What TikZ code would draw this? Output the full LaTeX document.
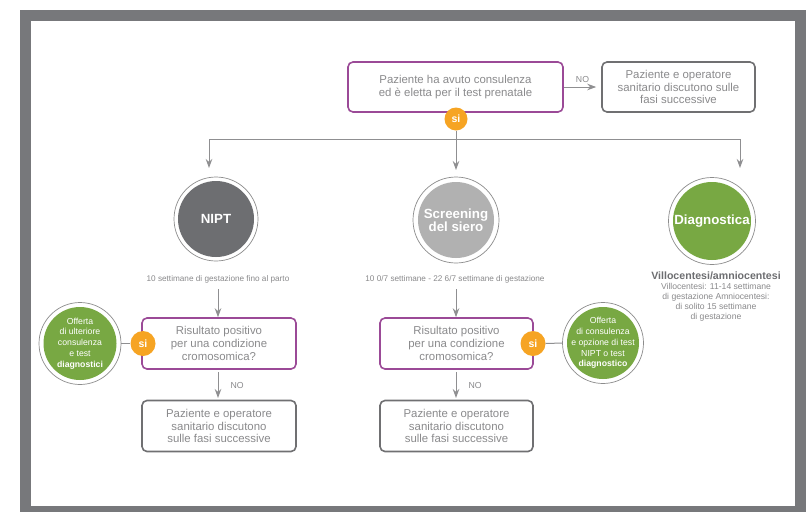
\documentclass[tikz,border=0pt]{standalone}
\usepackage{fontspec}
\setmainfont{Liberation Sans}
\usetikzlibrary{arrows.meta,calc}
\definecolor{framegray}{HTML}{77787B}
\definecolor{purp}{HTML}{9B4A97}
\definecolor{orng}{HTML}{F6A423}
\definecolor{grn}{HTML}{78A843}
\definecolor{darkfill}{HTML}{6D6E71}
\definecolor{lightfill}{HTML}{B1B1B1}
\definecolor{ringgray}{HTML}{8C8C8C}
\definecolor{txtgray}{HTML}{8A8A8C}
\definecolor{boxgray}{HTML}{707072}
\definecolor{linegray}{HTML}{8F8F91}
\tikzset{
  txt/.style={text=txtgray, align=center, inner sep=0pt},
  boxfont/.style={font=\fontsize{11.4}{12.6}\selectfont},
  qbox/.style={draw=purp, line width=1.6pt, rounded corners=5pt, txt, boxfont},
  abox/.style={draw=boxgray, line width=1.6pt, rounded corners=5pt, txt, boxfont},
  sinode/.style={circle, fill=orng, minimum size=23pt, inner sep=0pt, text=white, font=\fontsize{10.5}{12}\selectfont\bfseries},
  bigc/.style={circle, fill=#1, minimum size=76pt, inner sep=0pt, text=white, align=center, font=\fontsize{13.3}{13.5}\selectfont\bfseries},
  gtext/.style={inner sep=0pt, text=white, align=center, font=\fontsize{8.7}{10.8}\selectfont},
  ring/.style={draw=ringgray, line width=0.7pt},
  small/.style={text=txtgray, align=center, inner sep=0pt, font=\fontsize{8.2}{10}\selectfont},
  arr/.style={draw=linegray, line width=1pt, -{Stealth[length=9pt,width=6.5pt]}},
  conn/.style={draw=linegray, line width=1pt},
  lab/.style={text=txtgray, inner sep=0pt, font=\fontsize{8.7}{10}\selectfont},
}
\begin{document}
\begin{tikzpicture}[x=1pt,y=-1pt]
\useasboundingbox (0,0) rectangle (806,512);
% frame
\fill[framegray] (20,10) rectangle (806,512);
\fill[white] (31,21) rectangle (795,506);

% top row
\node[qbox, minimum width=215pt, minimum height=50pt] (q0) at (455.5,87) {Paziente ha avuto consulenza\\ed è eletta per il test prenatale};
\node[abox, minimum width=153pt, minimum height=50pt] (a0) at (678.5,87) {Paziente e operatore\\sanitario discutono sulle\\fasi successive};
\draw[arr, shorten >=5pt] (q0.east) -- node[lab, above=4pt] {NO} (a0.west);
\node[sinode] (s0) at (456,119) {si};

% branching
\coordinate (jl) at (209,139);
\coordinate (jm) at (456,139);
\coordinate (jr) at (740,139);
\coordinate (el) at (209,168);
\coordinate (em) at (456,170);
\coordinate (er) at (740,168);
\draw[conn] (s0.south) -- (jm);
\draw[conn] (jl) -- (jr);
\draw[arr] (jl) -- (el);
\draw[arr] (jm) -- (em);
\draw[arr] (jr) -- (er);

% circles
\node[bigc=darkfill] (nipt) at (216,219) {NIPT};
\draw[ring] (nipt.center) circle (42);
\node[bigc=lightfill] (scr) at (456,220) {Screening\\del siero};
\draw[ring] (scr.center) circle (43);
\node[bigc=grn, minimum size=78pt] (diag) at (712,221) {Diagnostica};
\draw[ring] (diag.center) circle (43.5);

% gestation texts
\node[small] (t1) at (218,279) {10 settimane di gestazione fino al parto};
\node[small] (t2) at (455,279) {10 0/7 settimane - 22 6/7 settimane di gestazione};
\node[small, anchor=north, font=\fontsize{8.6}{10}\selectfont] (t3) at (716,272) {{\fontsize{10.6}{12}\selectfont\bfseries\color{darkfill}Villocentesi/amniocentesi}\\Villocentesi: 11-14 settimane\\di gestazione Amniocentesi:\\di solito 15 settimane\\di gestazione};

% left column
\node[qbox, minimum width=154pt, minimum height=51pt] (q1) at (219,343.5) {Risultato positivo\\per una condizione\\cromosomica?};
\node[abox, minimum width=154pt, minimum height=51pt] (a1) at (219,426) {Paziente e operatore\\sanitario discutono\\sulle fasi successive};
\coordinate (l1a) at (218,289);
\draw[arr] (l1a) -- (l1a |- q1.north);
\coordinate (g1c) at (80,343.5);
\fill[grn] (g1c) circle (36.5);
\draw[ring] (g1c) circle (41);
\node[gtext] (g1) at (g1c) {Offerta\\di ulteriore\\consulenza\\e test\\\textbf{diagnostici}};
\node[sinode, minimum size=25pt] (s1) at (143,343.5) {si};
\draw[conn] ($(g1c)+(41,0)$) -- (s1.west);

% middle column
\node[qbox, minimum width=153pt, minimum height=51pt] (q2) at (456.5,343.5) {Risultato positivo\\per una condizione\\cromosomica?};
\node[abox, minimum width=153pt, minimum height=51pt] (a2) at (456.5,426) {Paziente e operatore\\sanitario discutono\\sulle fasi successive};
\coordinate (l2a) at (456,289);
\draw[arr] (l2a) -- (l2a |- q2.north);
\node[sinode, minimum size=25pt] (s2) at (533,343.5) {si};
\coordinate (g2c) at (603,343);
\fill[grn] (g2c) circle (36);
\draw[ring] (g2c) circle (40.5);
\node[gtext] (g2) at (g2c) {Offerta\\di consulenza\\e opzione di test\\NIPT o test\\\textbf{diagnostico}};
\draw[conn] (s2.east) -- ($(g2c)+(-40.5,0)$);

% NO arrows
\coordinate (n1a) at (218,372);
\coordinate (n1b) at (218,398);
\coordinate (n2a) at (456,372);
\coordinate (n2b) at (456,398);
\draw[arr] (n1a) -- node[lab, right=12pt] {NO} (n1b);
\draw[arr] (n2a) -- node[lab, right=12pt] {NO} (n2b);
\end{tikzpicture}
\end{document}
